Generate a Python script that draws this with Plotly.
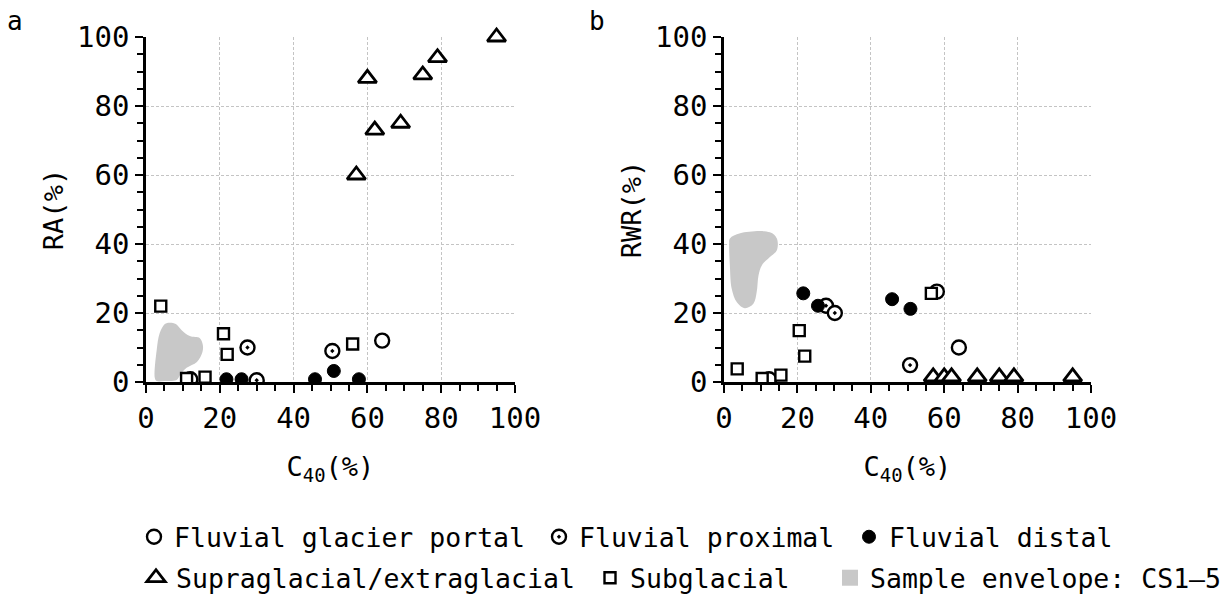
import plotly.graph_objects as go
from plotly.subplots import make_subplots

# ---------------- data (panel a: RA vs C40) ----------------
a_portal_x = [12.0, 64.0]
a_portal_y = [0.8, 12.0]
a_prox_x = [27.5, 30.0, 50.5]
a_prox_y = [10.0, 0.5, 9.0]
a_distal_x = [21.8, 25.9, 45.8, 50.9, 57.7]
a_distal_y = [0.8, 0.8, 0.8, 3.2, 0.8]
a_supra_x = [57, 60, 62, 69, 75, 79, 95]
a_supra_y = [60, 88, 73, 75, 89, 94, 100]
a_sub_x = [4.0, 21.0, 22.0, 11.0, 16.0, 56.0]
a_sub_y = [22.0, 14.0, 8.0, 1.0, 1.4, 11.0]
a_env_x = [2.4, 2.9, 3.7, 5.1, 6.4, 8.1, 9.6, 11.9, 14.6, 15.4, 15.3, 13.8, 11.0, 9.4, 8.3, 5.1, 2.9, 2.4]
a_env_y = [1.1, 9.3, 14.1, 16.8, 17.2, 16.8, 15.1, 13.3, 12.7, 10.7, 8.7, 5.8, 4.1, 2.3, 0.6, 0.3, 0.3, 1.1]

# ---------------- data (panel b: RWR vs C40) ----------------
b_portal_x = [12.3, 64.0, 58.0]
b_portal_y = [0.8, 10.0, 26.2]
b_prox_x = [27.8, 30.2, 50.7]
b_prox_y = [22.1, 20.0, 4.9]
b_distal_x = [21.6, 25.6, 45.8, 50.8]
b_distal_y = [25.7, 22.1, 24.0, 21.2]
b_supra_x = [57, 60, 62, 69, 75, 79, 95]
b_supra_y = [1.5, 1.5, 1.5, 1.5, 1.5, 1.5, 1.5]
b_sub_x = [3.6, 20.5, 22.0, 10.4, 15.5, 56.5]
b_sub_y = [3.8, 14.9, 7.5, 1.0, 2.0, 25.7]
b_env_x = [1.6, 4.4, 12.5, 14.4, 14.4, 12.5, 10.3, 9.4, 8.9, 8.0, 5.7, 3.5, 2.1, 1.6, 1.4, 1.6]
b_env_y = [41.6, 43.1, 43.4, 41.6, 38.2, 36.2, 33.8, 30.9, 26.0, 22.7, 21.4, 23.1, 27.0, 33.8, 39.7, 41.6]

# ---------------- text ----------------
ticks = [0, 20, 40, 60, 80, 100]
names = ["Fluvial glacier portal", "Fluvial proximal", "Fluvial distal",
         "Supraglacial/extraglacial", "Subglacial", "Sample envelope: CS1\u20135"]
FONT = "DejaVu Sans Mono"

fig = make_subplots(rows=1, cols=2, horizontal_spacing=0.1)

ENV = "#c8c8c8"

def add_panel(col, env_x, env_y, px, py, prx, pry, dx, dy, sx, sy, qx, qy, show):
    fig.add_trace(go.Scatter(x=env_x, y=env_y, mode="none", fill="toself", fillcolor=ENV,
                             line=dict(width=0, color=ENV, shape="spline", smoothing=1.0),
                             name=names[5], showlegend=False, hoverinfo="skip"),
                  row=1, col=col)
    fig.add_trace(go.Scatter(x=px, y=py, mode="markers", name=names[0], showlegend=show, legend="legend",
                             marker=dict(symbol="circle", size=14, color="white",
                                         line=dict(color="black", width=2.4))), row=1, col=col)
    fig.add_trace(go.Scatter(x=prx, y=pry, mode="markers", name=names[1], showlegend=show, legend="legend2",
                             marker=dict(symbol="circle-dot", size=14, color="white",
                                         line=dict(color="black", width=2.4))), row=1, col=col)
    fig.add_trace(go.Scatter(x=dx, y=dy, mode="markers", name=names[2], showlegend=show, legend="legend3",
                             marker=dict(symbol="circle", size=13, color="black",
                                         line=dict(color="black", width=1))), row=1, col=col)
    fig.add_trace(go.Scatter(x=sx, y=sy, mode="markers", name=names[3], showlegend=show, legend="legend4",
                             cliponaxis=(col == 2),
                             marker=dict(symbol="triangle-up", size=16, color="white",
                                         line=dict(color="black", width=2.8))), row=1, col=col)
    fig.add_trace(go.Scatter(x=qx, y=qy, mode="markers", name=names[4], showlegend=show, legend="legend5",
                             marker=dict(symbol="square", size=11, color="white",
                                         line=dict(color="black", width=2.4))), row=1, col=col)

add_panel(1, a_env_x, a_env_y, a_portal_x, a_portal_y, a_prox_x, a_prox_y, a_distal_x, a_distal_y,
          a_supra_x, a_supra_y, a_sub_x, a_sub_y, True)
add_panel(2, b_env_x, b_env_y, b_portal_x, b_portal_y, b_prox_x, b_prox_y, b_distal_x, b_distal_y,
          b_supra_x, b_supra_y, b_sub_x, b_sub_y, False)

# legend-only entry for the envelope (grey square swatch)
fig.add_trace(go.Scatter(x=[None], y=[None], mode="markers", name=names[5], legend="legend6",
                         marker=dict(symbol="square", size=30, color=ENV, line=dict(width=0)),
                         showlegend=True), row=1, col=1)

axis_common = dict(range=[0, 100], tickvals=ticks, ticktext=[str(t) for t in ticks],
                   showline=True, linecolor="black", linewidth=2.5, mirror=False,
                   ticks="outside", ticklen=8, tickwidth=2, tickcolor="black",
                   showgrid=True, gridcolor="#c4c4c4", griddash="3px,2px", gridwidth=1,
                   zeroline=False, automargin=False,
                   minor=dict(dtick=5, tick0=0, ticks="outside", ticklen=6, tickwidth=2,
                              tickcolor="black", showgrid=False),
                   tickfont=dict(family=FONT, size=29, color="black"))

W, H = 1232, 594
ya = [1 - 382 / H, 1 - 37 / H]
fig.update_xaxes(**axis_common)
fig.update_yaxes(**axis_common)
fig.update_xaxes(domain=[146 / W, 515 / W], row=1, col=1,
                 title=dict(text="C<sub>40</sub>(%)", font=dict(family=FONT, size=27, color="black"), standoff=24))
fig.update_xaxes(domain=[724 / W, 1091 / W], row=1, col=2,
                 title=dict(text="C<sub>40</sub>(%)", font=dict(family=FONT, size=27, color="black"), standoff=24))
fig.update_yaxes(domain=ya, row=1, col=1,
                 title=dict(text="RA(%)", font=dict(family=FONT, size=27, color="black"), standoff=6))
fig.update_yaxes(domain=ya, row=1, col=2,
                 title=dict(text="RWR(%)", font=dict(family=FONT, size=27, color="black"), standoff=6))

leg_font = dict(family=FONT, size=26.5, color="black")
def leg(xpix, ypix):
    return dict(x=(xpix - 42) / W, y=1 - ypix / H, xanchor="left", yanchor="middle",
                orientation="h", font=leg_font, bgcolor="rgba(0,0,0,0)", borderwidth=0,
                itemwidth=30, tracegroupgap=0)

fig.update_layout(
    width=W, height=H,
    margin=dict(l=0, r=0, t=0, b=0, autoexpand=False),
    paper_bgcolor="white", plot_bgcolor="white",
    legend=leg(176, 537),
    legend2=leg(581, 537),
    legend3=leg(891, 537),
    legend4=leg(178, 578),
    legend5=leg(632, 578),
    legend6=leg(872, 578),
    annotations=[
        dict(text="a", x=15 / W, y=1 - 21 / H, xref="paper", yref="paper", showarrow=False,
             xanchor="center", yanchor="middle", font=dict(family=FONT, size=26, color="black")),
        dict(text="b", x=597 / W, y=1 - 21 / H, xref="paper", yref="paper", showarrow=False,
             xanchor="center", yanchor="middle", font=dict(family=FONT, size=26, color="black")),
    ],
)

fig.write_html("out.html", config={"displayModeBar": False},
               post_script="document.body.style.margin='0px';")
